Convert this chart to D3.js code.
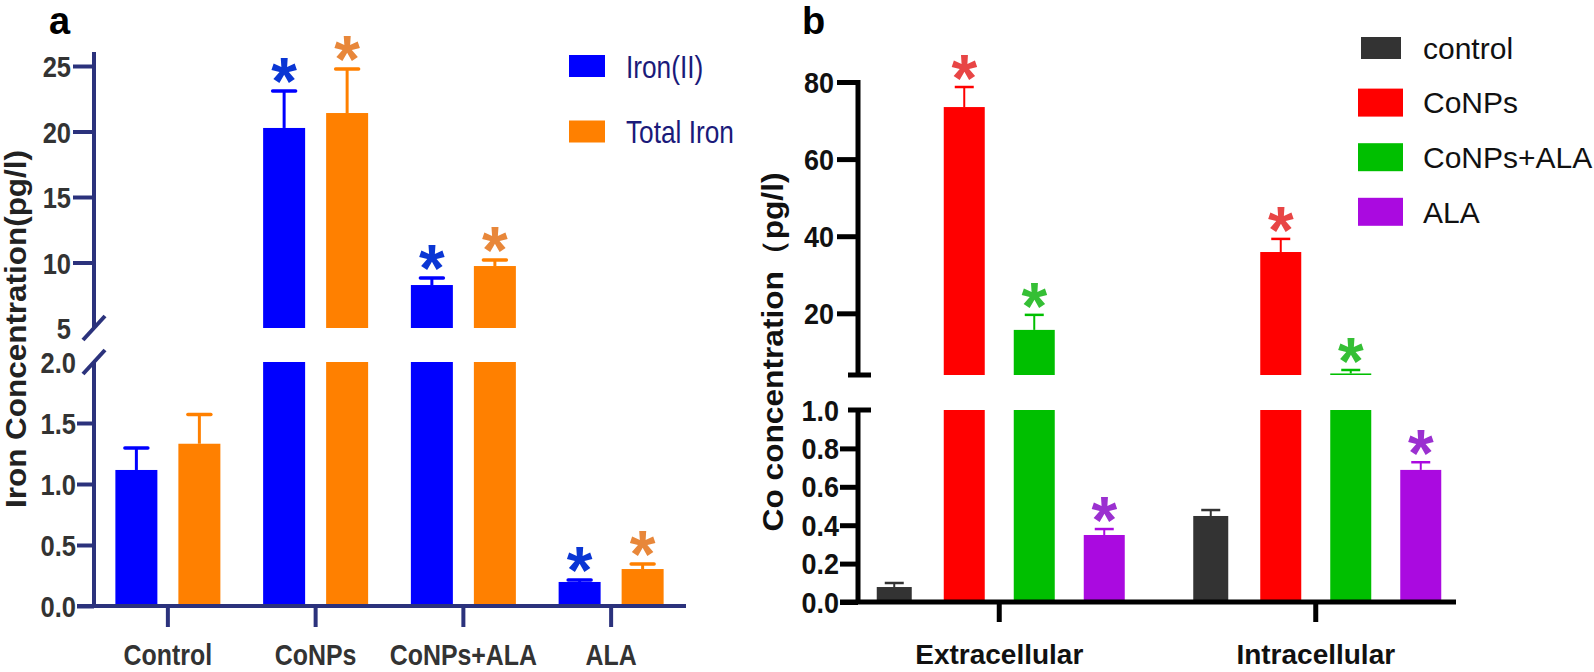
<!DOCTYPE html>
<html><head><meta charset="utf-8">
<script src="https://cdn.jsdelivr.net/npm/d3@7"></script>
<style>
html,body{margin:0;padding:0;background:#fff;}
svg{display:block;font-family:"Liberation Sans",Arial,sans-serif;}
</style></head>
<body>
<svg id="chart" width="1594" height="672"></svg>
<script>
// ---------- Panel a data ----------
const leftCategories = ["Control", "CoNPs", "CoNPs+ALA", "ALA"];
const leftSeries = ["Iron(II)", "Total Iron"];
const ironII = [1.115, 20.27, 8.28, 0.197];
const ironIIErr = [0.18, 2.82, 0.54, 0.016];
const totalIron = [1.33, 21.41, 9.73, 0.303];
const totalIronErr = [0.24, 3.36, 0.46, 0.041];
const leftSignificant = [false, true, true, true];
const leftLowerTicks = [0, 0.5, 1.0, 1.5, 2.0];
const leftUpperTicks = [5, 10, 15, 20, 25];
const leftLowerDomain = [0, 2];
const leftUpperDomain = [5, 25];
const leftUpperAxisTop = 26.07;
const leftYLabel = "Iron Concentration(pg/l)";

// ---------- Panel b data ----------
const rightGroups = ["Extracellular", "Intracellular"];
const rightSeries = ["control", "CoNPs", "CoNPs+ALA", "ALA"];
const coControl = [0.078, 0.448];
const coControlErr = [0.021, 0.031];
const coCoNPs = [73.5, 35.9];
const coCoNPsErr = [5.2, 3.4];
const coCoNPsALA = [15.7, 4.4];
const coCoNPsALAErr = [3.9, 0.9];
const coALA = [0.349, 0.688];
const coALAErr = [0.031, 0.04];
const rightSignificant = [false, true, true, true];
const rightLowerTicks = [0, 0.2, 0.4, 0.6, 0.8, 1.0];
const rightUpperTicks = [20, 40, 60, 80];
const rightLowerDomain = [0, 1];
const rightUpperDomain = [4, 80];
const rightYLabel = "Co concentration（pg/l)";

const svg = d3.select("#chart");
const FONT = '"Liberation Sans", Arial, sans-serif';

function condense(sel, f) {
  sel.each(function () {
    const L = this.getComputedTextLength();
    this.setAttribute("textLength", L * f);
    this.setAttribute("lengthAdjust", "spacingAndGlyphs");
  });
}
function fitLength(sel, L) {
  sel.attr("textLength", L).attr("lengthAdjust", "spacingAndGlyphs");
}

// =================== PANEL A ===================
(function () {
  const navy = "#2b327c";
  const colors = { "Iron(II)": "#0000ff", "Total Iron": "#ff8000" };
  const starColors = { "Iron(II)": "#0a36d4", "Total Iron": "#e8873a" };
  const values = { "Iron(II)": ironII, "Total Iron": totalIron };
  const errs = { "Iron(II)": ironIIErr, "Total Iron": totalIronErr };

  const axisX = 94;
  const x = d3.scaleBand().domain(leftCategories).range([94, 685]).padding(0);
  const xs = d3.scalePoint().domain(leftSeries).range([-31.5, 31.5]);
  const barW = 42;
  const yLow = d3.scaleLinear().domain(leftLowerDomain).range([606, 362]);
  const yUp = d3.scaleLinear().domain(leftUpperDomain).range([328, 66]);

  const g = svg.append("g");

  leftCategories.forEach((c, i) => {
    leftSeries.forEach(s => {
      const v = values[s][i], e = errs[s][i];
      const cx = x(c) + x.bandwidth() / 2 + xs(s);
      const lowTop = yLow(Math.min(v, leftLowerDomain[1]));
      g.append("rect").attr("x", cx - barW / 2).attr("y", lowTop)
        .attr("width", barW).attr("height", yLow(0) - lowTop).attr("fill", colors[s]);
      let sc = yLow;
      if (v > leftUpperDomain[0]) {
        sc = yUp;
        g.append("rect").attr("x", cx - barW / 2).attr("y", yUp(v))
          .attr("width", barW).attr("height", yUp(leftUpperDomain[0]) - yUp(v)).attr("fill", colors[s]);
      }
      const capY = sc(v + e);
      g.append("line").attr("x1", cx).attr("x2", cx).attr("y1", sc(v)).attr("y2", capY)
        .attr("stroke", colors[s]).attr("stroke-width", 3);
      g.append("line").attr("x1", cx - 11.5).attr("x2", cx + 11.5).attr("y1", capY).attr("y2", capY)
        .attr("stroke", colors[s]).attr("stroke-width", 3.5).attr("stroke-linecap", "round");
      if (leftSignificant[i]) {
        g.append("text").attr("x", cx).attr("y", capY - 19 + 32)
          .attr("text-anchor", "middle").attr("font-size", 66).attr("font-weight", "bold")
          .attr("fill", starColors[s]).text("*");
      }
    });
  });

  const axLow = g.append("g").attr("transform", `translate(${axisX},0)`)
    .call(d3.axisLeft(yLow).tickValues(leftLowerTicks).tickFormat(d3.format(".1f")).tickSize(17).tickPadding(1));
  axLow.select(".domain").remove();
  axLow.selectAll(".tick line").attr("stroke", navy).attr("stroke-width", 4)
    .attr("display", d => d === leftLowerDomain[1] ? "none" : null);
  axLow.selectAll(".tick text").attr("font-family", FONT).attr("font-size", 30).attr("font-weight", "bold")
    .attr("fill", "#333").attr("dy", "0.35em").call(condense, 0.85);
  const axUp = g.append("g").attr("transform", `translate(${axisX},0)`)
    .call(d3.axisLeft(yUp).tickValues(leftUpperTicks).tickFormat(d3.format("d")).tickSize(21).tickPadding(2));
  axUp.select(".domain").remove();
  axUp.selectAll(".tick line").attr("stroke", navy).attr("stroke-width", 4)
    .attr("display", d => d === leftUpperDomain[0] ? "none" : null);
  axUp.selectAll(".tick text").attr("font-family", FONT).attr("font-size", 30).attr("font-weight", "bold")
    .attr("fill", "#333").attr("dy", "0.35em").call(condense, 0.85);

  g.append("line").attr("x1", axisX).attr("x2", axisX).attr("y1", yLow(0) + 2).attr("y2", yLow(leftLowerDomain[1]))
    .attr("stroke", navy).attr("stroke-width", 4);
  g.append("line").attr("x1", axisX).attr("x2", axisX).attr("y1", yUp(leftUpperDomain[0])).attr("y2", yUp(leftUpperAxisTop))
    .attr("stroke", navy).attr("stroke-width", 4);
  [yUp(leftUpperDomain[0]), yLow(leftLowerDomain[1])].forEach(yy => {
    g.append("line").attr("x1", axisX - 11).attr("x2", axisX + 11).attr("y1", yy + 12).attr("y2", yy - 12)
      .attr("stroke", navy).attr("stroke-width", 4);
  });

  const axB = g.append("g").attr("transform", `translate(0,${yLow(0)})`)
    .call(d3.axisBottom(x).tickSize(21).tickSizeOuter(0));
  axB.select(".domain").remove();
  axB.selectAll(".tick line").attr("stroke", navy).attr("stroke-width", 4);
  axB.selectAll(".tick text").attr("font-family", FONT).attr("font-size", 30).attr("font-weight", "bold")
    .attr("fill", "#333").attr("y", 59).attr("dy", 0).call(condense, 0.83);
  g.append("line").attr("x1", 77).attr("x2", 686).attr("y1", yLow(0)).attr("y2", yLow(0))
    .attr("stroke", navy).attr("stroke-width", 4);

  g.append("text").attr("transform", `translate(26,${329}) rotate(-90)`)
    .attr("text-anchor", "middle").attr("font-size", 29).attr("font-weight", "bold").attr("fill", "#222")
    .text(leftYLabel).call(fitLength, 358);

  const lg = g.append("g");
  leftSeries.forEach((s, i) => {
    const yy = 66 + i * 65.5;
    lg.append("rect").attr("x", 569).attr("y", yy - 11).attr("width", 36).attr("height", 22).attr("fill", colors[s]);
    lg.append("text").attr("x", 626).attr("y", yy).attr("dy", "0.36em")
      .attr("font-size", 32).attr("fill", "#1a1a7a").text(s).call(condense, 0.82);
  });

  g.append("text").attr("x", 49).attr("y", 34).attr("font-size", 38).attr("font-weight", "bold").text("a");
})();

// =================== PANEL B ===================
(function () {
  const colors = { "control": "#333333", "CoNPs": "#ff0000", "CoNPs+ALA": "#00bf00", "ALA": "#aa0ae0" };
  const starColors = { "control": "#333333", "CoNPs": "#e84545", "CoNPs+ALA": "#35bf35", "ALA": "#9b30d0" };
  const values = { "control": coControl, "CoNPs": coCoNPs, "CoNPs+ALA": coCoNPsALA, "ALA": coALA };
  const errs = { "control": coControlErr, "CoNPs": coCoNPsErr, "CoNPs+ALA": coCoNPsALAErr, "ALA": coALAErr };
  const widths = { "control": 35, "CoNPs": 41, "CoNPs+ALA": 41, "ALA": 41 };

  const axisX = 858;
  const x = d3.scaleBand().domain(rightGroups).range([841, 1474]).padding(0);
  const xs = d3.scalePoint().domain(rightSeries).range([-105, 105]);
  const yLow = d3.scaleLinear().domain(rightLowerDomain).range([602, 410]);
  const yUp = d3.scaleLinear().domain(rightUpperDomain).range([375, 82]);

  const g = svg.append("g");

  rightGroups.forEach((c, i) => {
    rightSeries.forEach((s, j) => {
      const v = values[s][i], e = errs[s][i], w = widths[s];
      const cx = x(c) + x.bandwidth() / 2 + xs(s);
      const lowTop = yLow(Math.min(v, rightLowerDomain[1]));
      g.append("rect").attr("x", cx - w / 2).attr("y", lowTop)
        .attr("width", w).attr("height", yLow(0) - lowTop).attr("fill", colors[s]);
      let sc = yLow;
      if (v > rightUpperDomain[0]) {
        sc = yUp;
        g.append("rect").attr("x", cx - w / 2).attr("y", yUp(v))
          .attr("width", w).attr("height", yUp(rightUpperDomain[0]) - yUp(v)).attr("fill", colors[s]);
      }
      const capY = sc(v + e);
      g.append("line").attr("x1", cx).attr("x2", cx).attr("y1", sc(v)).attr("y2", capY)
        .attr("stroke", colors[s]).attr("stroke-width", 2);
      g.append("line").attr("x1", cx - 9.5).attr("x2", cx + 9.5).attr("y1", capY).attr("y2", capY)
        .attr("stroke", colors[s]).attr("stroke-width", 2.5);
      if (rightSignificant[j]) {
        g.append("text").attr("x", cx).attr("y", capY - 18 + 32)
          .attr("text-anchor", "middle").attr("font-size", 66).attr("font-weight", "bold")
          .attr("fill", starColors[s]).text("*");
      }
    });
  });

  const axLow = g.append("g").attr("transform", `translate(${axisX},0)`)
    .call(d3.axisLeft(yLow).tickValues(rightLowerTicks).tickFormat(d3.format(".1f")).tickSize(18).tickPadding(1));
  axLow.select(".domain").remove();
  axLow.selectAll(".tick line").attr("stroke", "#000").attr("stroke-width", 5)
    .attr("display", d => d === rightLowerDomain[1] ? "none" : null);
  axLow.selectAll(".tick text").attr("font-family", FONT).attr("font-size", 29).attr("font-weight", "bold")
    .attr("fill", "#111").attr("dy", "0.35em").call(condense, 0.93);
  const axUp = g.append("g").attr("transform", `translate(${axisX},0)`)
    .call(d3.axisLeft(yUp).tickValues(rightUpperTicks).tickFormat(d3.format("d")).tickSize(21).tickPadding(3));
  axUp.select(".domain").remove();
  axUp.selectAll(".tick line").attr("stroke", "#000").attr("stroke-width", 5);
  axUp.selectAll(".tick text").attr("font-family", FONT).attr("font-size", 29).attr("font-weight", "bold")
    .attr("fill", "#111").attr("dy", "0.35em").call(condense, 0.93);

  g.append("line").attr("x1", axisX).attr("x2", axisX).attr("y1", yLow(0) + 2).attr("y2", yLow(rightLowerDomain[1]))
    .attr("stroke", "#000").attr("stroke-width", 5);
  g.append("line").attr("x1", axisX).attr("x2", axisX).attr("y1", yUp(rightUpperDomain[0])).attr("y2", yUp(rightUpperDomain[1]) - 2)
    .attr("stroke", "#000").attr("stroke-width", 5);
  [yUp(rightUpperDomain[0]), yLow(rightLowerDomain[1])].forEach(yy => {
    g.append("line").attr("x1", axisX - 10).attr("x2", axisX + 13).attr("y1", yy).attr("y2", yy)
      .attr("stroke", "#000").attr("stroke-width", 5);
  });

  const axB = g.append("g").attr("transform", `translate(0,${yLow(0)})`)
    .call(d3.axisBottom(x).tickSize(20).tickSizeOuter(0));
  axB.select(".domain").remove();
  axB.selectAll(".tick line").attr("stroke", "#000").attr("stroke-width", 5);
  axB.selectAll(".tick text").attr("font-family", FONT).attr("font-size", 28).attr("font-weight", "bold")
    .attr("fill", "#111").attr("y", 62).attr("dy", 0);
  g.append("line").attr("x1", 840).attr("x2", 1456).attr("y1", yLow(0)).attr("y2", yLow(0))
    .attr("stroke", "#000").attr("stroke-width", 5);

  g.append("text").attr("transform", `translate(783,${352}) rotate(-90)`)
    .attr("text-anchor", "middle").attr("font-size", 29).attr("font-weight", "bold").attr("fill", "#111")
    .text(rightYLabel).call(fitLength, 359);

  rightSeries.forEach((s, i) => {
    const yy = 48 + i * 54.6;
    if (s === "control") {
      g.append("rect").attr("x", 1361).attr("y", yy - 11).attr("width", 40).attr("height", 22).attr("fill", colors[s]);
    } else {
      g.append("rect").attr("x", 1358).attr("y", yy - 14).attr("width", 45).attr("height", 28).attr("fill", colors[s]);
    }
    g.append("text").attr("x", 1423).attr("y", yy).attr("dy", "0.36em")
      .attr("font-size", 30).attr("fill", "#111").text(s);
  });

  g.append("text").attr("x", 802).attr("y", 34).attr("font-size", 38).attr("font-weight", "bold").text("b");
})();
</script>
</body></html>
